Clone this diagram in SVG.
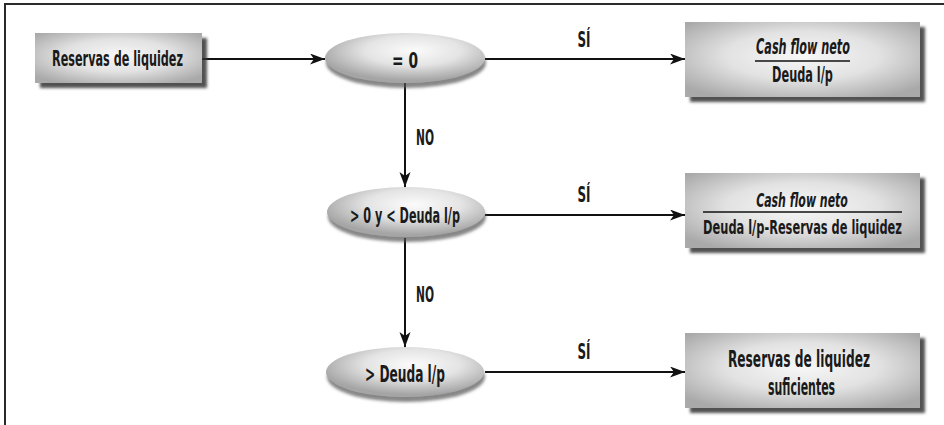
<svg xmlns="http://www.w3.org/2000/svg" width="944" height="425" viewBox="0 0 944 425">
<defs>
<style>
.t{font-family:"Liberation Sans Narrow","DejaVu Sans Condensed","Liberation Sans",sans-serif;font-stretch:condensed;font-weight:bold;font-size:21px;fill:#1a1a1a;text-anchor:middle}
.i{font-style:italic}
.s19{font-size:19px}
.s23{font-size:23px}
.ln{stroke:#111;stroke-width:2;fill:none}
.box{fill:url(#gBox);filter:url(#shBox)}
.ell{fill:url(#gEll);filter:url(#shEll)}
</style>
<radialGradient id="gBox" cx="50%" cy="45%" r="65%">
<stop offset="0" stop-color="#f7f7f7"/>
<stop offset="0.5" stop-color="#e2e2e2"/>
<stop offset="1" stop-color="#a9a9a9"/>
</radialGradient>
<radialGradient id="gEll" cx="55%" cy="35%" r="60%">
<stop offset="0" stop-color="#fbfbfb"/>
<stop offset="0.5" stop-color="#e4e4e4"/>
<stop offset="1" stop-color="#a5a5a5"/>
</radialGradient>
<filter id="shBox" x="-10%" y="-20%" width="130%" height="150%">
<feDropShadow dx="5" dy="5" stdDeviation="1.4" flood-color="#333" flood-opacity="0.85"/>
</filter>
<filter id="shEll" x="-10%" y="-20%" width="130%" height="160%">
<feDropShadow dx="1" dy="5" stdDeviation="1.6" flood-color="#555" flood-opacity="0.7"/>
</filter>
<marker id="arr" markerUnits="userSpaceOnUse" markerWidth="16" markerHeight="12" refX="15" refY="5.5" orient="auto">
<path d="M0,0 L15,5.5 L0,11 L4,5.5 Z" fill="#111"/>
</marker>
</defs>
<rect width="944" height="425" fill="#fff"/>
<path d="M5,430 V4 H950" fill="none" stroke="#2a2a2a" stroke-width="2"/>

<g id="connectors">
<path class="ln" d="M202,59 H325" marker-end="url(#arr)"/>
<path class="ln" d="M485,59 H685" marker-end="url(#arr)"/>
<path class="ln" d="M405,83 V187" marker-end="url(#arr)"/>
<path class="ln" d="M485,215 H685" marker-end="url(#arr)"/>
<path class="ln" d="M405,238 V347" marker-end="url(#arr)"/>
<path class="ln" d="M485,372 H685" marker-end="url(#arr)"/>
<text class="t" transform="translate(584 46.5) scale(0.7 1)" textLength="18.6" lengthAdjust="spacingAndGlyphs">SÍ</text>
<text class="t" transform="translate(584 202) scale(0.7 1)" textLength="18.6" lengthAdjust="spacingAndGlyphs">SÍ</text>
<text class="t" transform="translate(584 359) scale(0.7 1)" textLength="18.6" lengthAdjust="spacingAndGlyphs">SÍ</text>
<text class="t" transform="translate(425 145) scale(0.7 1)" textLength="25.7" lengthAdjust="spacingAndGlyphs">NO</text>
<text class="t" transform="translate(425 302) scale(0.7 1)" textLength="25.7" lengthAdjust="spacingAndGlyphs">NO</text>
</g>

<g id="start">
<rect class="box" x="35" y="33" width="167" height="50"/>
<text class="t" transform="translate(117.5 65.5) scale(0.7 1)" textLength="187" lengthAdjust="spacingAndGlyphs">Reservas de liquidez</text>
</g>

<g id="cond1">
<ellipse class="ell" cx="405" cy="58" rx="80" ry="25"/>
<text class="t" transform="translate(405 68) scale(0.7 1)" style="font-size:22px" textLength="37" lengthAdjust="spacingAndGlyphs">= 0</text>
</g>

<g id="cond2">
<ellipse class="ell" cx="406" cy="212" rx="79" ry="25"/>
<text class="t" transform="translate(405 223) scale(0.7 1)" textLength="157" lengthAdjust="spacingAndGlyphs">&gt; 0 y &lt; Deuda l/p</text>
</g>

<g id="cond3">
<ellipse class="ell" cx="405" cy="372" rx="79" ry="25"/>
<text class="t s23" transform="translate(405 381.5) scale(0.7 1)" textLength="114" lengthAdjust="spacingAndGlyphs">&gt; Deuda l/p</text>
</g>

<g id="res1">
<rect class="box" x="685" y="22" width="235" height="75"/>
<text class="t i" transform="translate(803 53.5) scale(0.7 1)" textLength="134" lengthAdjust="spacingAndGlyphs">Cash flow neto</text>
<line x1="755" y1="61" x2="850" y2="61" stroke="#111" stroke-width="1.3"/>
<text class="t" transform="translate(802.5 82) scale(0.7 1)" textLength="87" lengthAdjust="spacingAndGlyphs">Deuda l/p</text>
</g>

<g id="res2">
<rect class="box" x="685" y="173" width="235" height="75"/>
<text class="t i s19" transform="translate(802 206.5) scale(0.7 1)" textLength="131" lengthAdjust="spacingAndGlyphs">Cash flow neto</text>
<line x1="703" y1="212" x2="902" y2="212" stroke="#111" stroke-width="1.3"/>
<text class="t s19" transform="translate(802.5 234) scale(0.7 1)" textLength="284" lengthAdjust="spacingAndGlyphs">Deuda l/p-Reservas de liquidez</text>
</g>

<g id="res3">
<rect class="box" x="685" y="333" width="235" height="75"/>
<text class="t s23" transform="translate(799 367) scale(0.7 1)" textLength="203" lengthAdjust="spacingAndGlyphs">Reservas de liquidez</text>
<text class="t s23" transform="translate(801.5 394.5) scale(0.7 1)" textLength="96" lengthAdjust="spacingAndGlyphs">suficientes</text>
</g>
</svg>
